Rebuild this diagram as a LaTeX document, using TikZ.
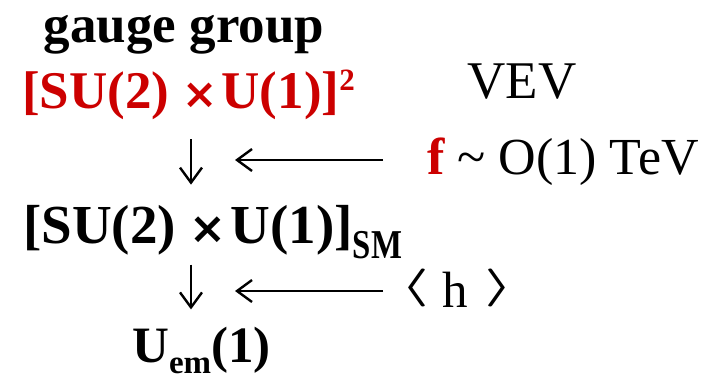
\documentclass[tikz,border=0pt]{standalone}
\usepackage{fontspec}
\setmainfont{Liberation Serif}
\newfontfamily\crossfont{DejaVu Sans}
\usepackage{xcolor}
\usetikzlibrary{arrows.meta,calc,positioning}
\definecolor{GroupRed}{RGB}{204,0,0}
% sizes and small helpers
\newcommand{\sz}[1]{\fontsize{#1}{#1}\selectfont}
\newcommand{\lowtxt}[3]{\raisebox{-#1}{\sz{#2}#3}}
\newcommand{\cross}[1]{{\crossfont\bfseries\sz{#1}×}}
\newcommand{\angl}[1]{\raisebox{\depth}{\resizebox*{29pt}{38pt}{\boldmath$#1$}}}

\begin{document}
\begin{tikzpicture}[x=1pt,y=-1pt,
    every node/.style={inner sep=0pt,anchor=base west},
    grp/.style={font=\bfseries},
    brk/.style={line width=2.4pt,-{Straight Barb[length=15pt,width=22pt]}}]
  \useasboundingbox (0,0) rectangle (706,381);
  % left column: the groups
  \node[grp,anchor=base] (title) at (184,42) {\sz{53}gauge group};
  \node[grp,text=GroupRed] (big) at (22,108)
    {\sz{53}[SU(2)\hspace{13pt}\cross{42}\hspace{4pt}U(1)]\raisebox{18pt}{\sz{31}2}};
  \node[grp] (sm) at (23,243)
    {\sz{55}[SU(2)\hspace{14pt}\cross{44}\hspace{4pt}U(1)]\lowtxt{15pt}{41}{\scalebox{0.8}[1]{SM}}};
  \node[grp] (em) at (132,362) {\sz{51}U\lowtxt{11pt}{33}{em}(1)};
  % right column: the VEVs
  \node[anchor=base] (vev) at (522,98) {\sz{53}VEV};
  \node (scale) at (427,174) {\sz{52}\textcolor{GroupRed}{\bfseries f} \textasciitilde\ O(1) TeV};
  \node (vevh) at (400,307) {\sz{51}\angl{\langle}\hspace{13pt}h\hspace{17pt}\angl{\rangle}};
  % breaking steps
  \coordinate (d) at (191,0);
  \coordinate (h1) at (235,160);
  \coordinate (h2) at (235,291);
  \draw[brk,shorten <=20pt,shorten >=20pt] (big.south -| d) -- (sm.north -| d);
  \draw[brk,shorten <=6pt,shorten >=17pt] (sm.south -| d) -- (em.north -| d);
  \draw[brk,shorten <=44pt] (scale.west |- h1) -- (h1);
  \draw[brk,shorten <=17pt] (vevh.west |- h2) -- (h2);
\end{tikzpicture}
\end{document}
